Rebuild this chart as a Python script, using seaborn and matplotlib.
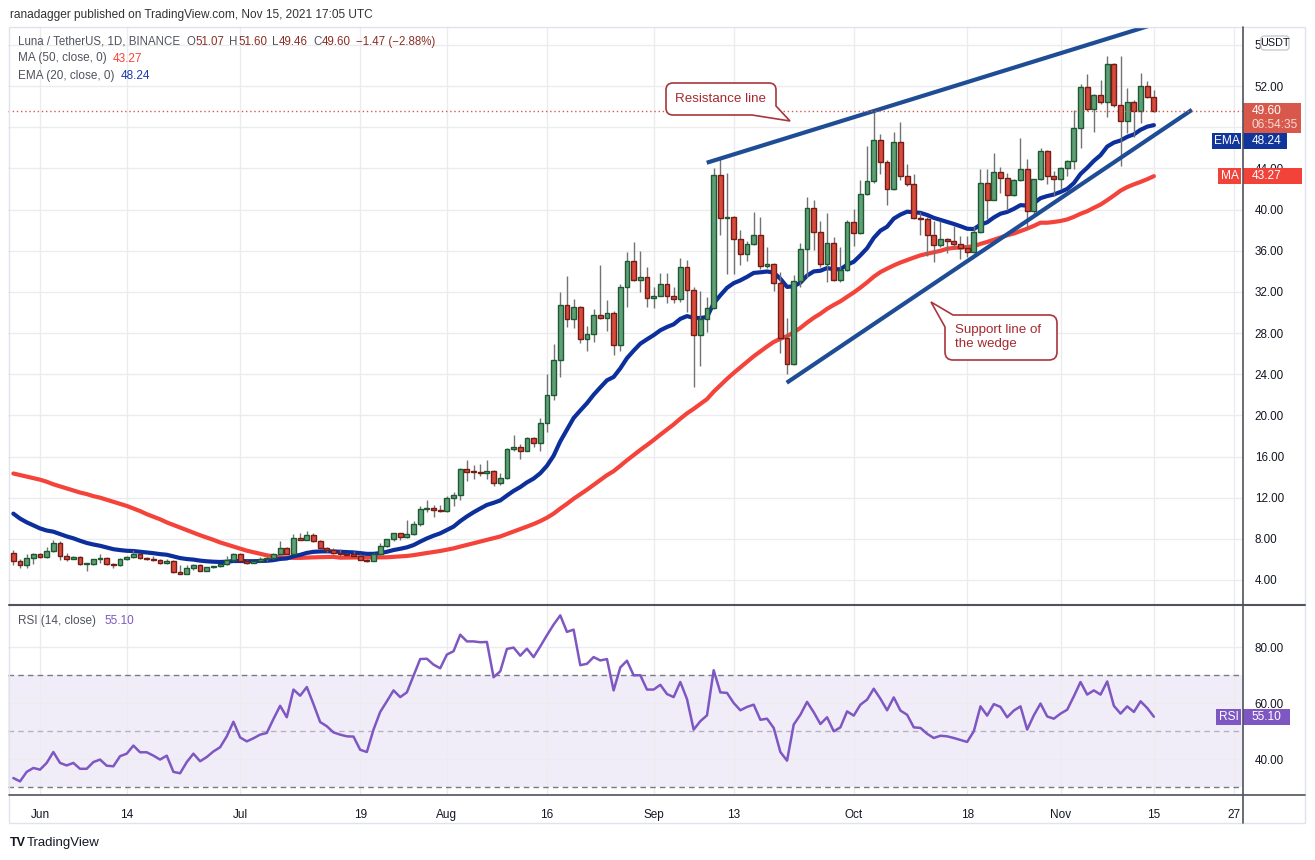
import numpy as np
import pandas as pd
import matplotlib
matplotlib.use("Agg")
import matplotlib.pyplot as plt
import matplotlib.ticker as mticker
import seaborn as sns
from matplotlib.path import Path
from matplotlib.patches import PathPatch, Rectangle, FancyBboxPatch

# ---------------- data ----------------
start_date = "2021-05-28"
first_open = 6.64

closes = [
    5.82, 5.42, 6.15, 6.50, 6.20, 6.84, 7.63, 6.30, 6.05, 6.28,
    5.55, 5.60, 6.00, 6.15, 5.55, 5.45, 6.08, 6.20, 6.57, 6.10,
    6.05, 5.90, 5.65, 5.88, 4.73, 4.63, 5.15, 5.45, 4.92, 5.22,
    5.38, 5.52, 5.98, 6.54, 5.85, 5.65, 5.82, 6.00, 6.10, 6.54,
    7.13, 6.57, 8.13, 7.90, 8.42, 7.76, 7.10, 6.90, 6.64, 6.50,
    6.40, 6.38, 5.95, 5.88, 6.54, 7.30, 7.96, 8.52, 8.19, 8.49,
    9.49, 10.92, 11.00, 10.82, 10.70, 12.00, 12.28, 14.75, 14.50, 14.45,
    14.42, 14.60, 13.45, 13.94, 16.70, 16.96, 16.55, 17.84, 17.35, 19.30,
    21.96, 25.37, 30.75, 29.35, 30.56, 27.40, 27.90, 29.80, 29.48, 29.97,
    26.83, 32.50, 34.97, 33.20, 33.43, 31.44, 31.63, 32.75, 31.63, 31.34,
    34.40, 32.20, 27.80, 29.38, 30.46, 43.40, 39.20, 39.30, 37.15, 35.70,
    36.70, 37.48, 34.47, 34.72, 32.88, 27.54, 25.00, 33.10, 36.18, 40.16,
    37.83, 34.72, 36.76, 33.14, 34.14, 38.80, 37.70, 41.52, 42.78, 46.76,
    44.63, 42.00, 46.57, 43.24, 42.50, 39.20, 39.10, 37.54, 36.54, 37.15,
    36.96, 36.67, 36.27, 35.85, 37.78, 42.60, 40.93, 43.67, 43.09, 41.40,
    42.90, 43.90, 39.87, 42.93, 45.72, 43.25, 42.93, 44.08, 44.76, 47.94,
    51.90, 49.80, 51.10, 50.50, 54.10, 50.20, 48.65, 50.45, 49.55, 52.00,
    50.96, 49.60]

highs = [
    6.90, 6.08, 6.54, 6.62, 6.62, 7.23, 7.86, 7.80, 6.60, 6.35,
    6.30, 5.62, 6.08, 6.50, 6.25, 5.62, 6.15, 6.30, 6.90, 6.62,
    6.25, 6.35, 6.05, 6.05, 5.92, 5.48, 5.48, 5.55, 5.55, 5.25,
    5.38, 5.60, 6.30, 6.64, 6.60, 5.92, 5.85, 6.20, 6.30, 6.64,
    7.80, 7.23, 8.45, 8.60, 8.78, 8.55, 7.86, 7.20, 7.10, 7.03,
    6.64, 6.80, 6.54, 6.08, 6.60, 7.55, 8.03, 8.60, 8.60, 9.82,
    9.70, 11.18, 11.80, 11.30, 11.30, 12.20, 12.55, 14.90, 15.66, 15.20,
    15.30, 15.70, 14.70, 14.35, 16.85, 18.06, 17.20, 17.90, 17.90, 19.70,
    24.00, 26.90, 32.00, 33.50, 31.30, 30.60, 28.70, 30.30, 34.60, 31.20,
    30.10, 32.80, 35.85, 36.80, 36.00, 34.40, 32.50, 33.80, 33.80, 32.50,
    35.30, 35.10, 32.50, 32.06, 31.50, 44.00, 45.10, 43.60, 39.40, 38.06,
    36.90, 39.80, 39.26, 36.40, 34.80, 33.90, 29.50, 33.60, 36.76, 41.23,
    40.90, 38.87, 39.70, 37.30, 36.40, 39.00, 40.10, 42.85, 46.20, 49.55,
    47.30, 44.80, 47.54, 48.50, 44.47, 43.50, 39.80, 39.30, 38.87, 38.87,
    37.20, 38.40, 37.46, 37.46, 38.40, 43.95, 43.90, 45.50, 44.10, 43.60,
    43.00, 46.95, 44.95, 43.00, 45.98, 45.80, 43.70, 44.15, 44.80, 49.68,
    52.20, 53.20, 51.20, 52.57, 54.89, 54.20, 54.89, 51.86, 50.60, 53.30,
    52.50, 51.60]

lows = [
    5.50, 5.16, 5.16, 5.60, 6.10, 6.10, 6.75, 5.90, 5.85, 6.02,
    5.50, 4.92, 5.45, 5.65, 5.50, 5.20, 5.40, 5.98, 6.18, 6.00,
    5.98, 5.80, 5.58, 5.60, 4.70, 4.55, 4.66, 5.00, 4.92, 4.95,
    5.15, 5.30, 5.42, 5.82, 5.82, 5.58, 5.62, 5.75, 5.82, 6.05,
    6.50, 6.52, 6.52, 7.87, 7.87, 7.70, 7.04, 6.72, 6.53, 6.27,
    6.36, 6.36, 5.90, 5.75, 5.80, 6.50, 7.20, 7.80, 7.90, 8.10,
    8.35, 9.20, 10.60, 10.10, 10.60, 10.60, 11.20, 11.75, 13.60, 13.80,
    14.10, 13.80, 13.10, 13.20, 13.80, 16.50, 15.80, 16.50, 16.90, 16.55,
    18.40, 21.50, 23.70, 28.60, 28.50, 27.00, 26.30, 27.10, 29.40, 28.20,
    25.90, 26.30, 30.50, 33.10, 32.00, 30.50, 30.40, 31.60, 30.90, 30.90,
    31.00, 30.00, 22.80, 24.80, 28.10, 30.30, 37.50, 33.70, 33.70, 34.66,
    35.00, 36.60, 34.20, 34.30, 32.07, 26.10, 24.00, 24.90, 32.50, 33.40,
    36.10, 34.40, 33.00, 33.04, 33.00, 34.00, 36.50, 37.60, 41.40, 42.60,
    43.50, 40.40, 41.90, 42.90, 42.30, 39.10, 37.57, 35.47, 34.90, 36.40,
    35.80, 36.20, 35.20, 35.37, 35.80, 37.70, 39.07, 40.90, 41.60, 40.00,
    41.30, 42.80, 38.10, 39.50, 42.90, 42.50, 41.30, 42.00, 43.30, 43.95,
    46.00, 49.60, 47.50, 50.30, 49.00, 50.00, 44.20, 47.40, 47.10, 48.40,
    50.80, 49.46]

# EMA(20) value on the first visible day
ema20_first = 10.45
# MA(50) on the first 49 visible days (its window reaches before the chart)
ma50_first_49 = [
    14.35, 14.20, 14.05, 13.90, 13.75, 13.55, 13.30, 13.10, 12.90, 12.70,
    12.50, 12.35, 12.15, 12.00, 11.80, 11.60, 11.40, 11.20, 10.95, 10.70,
    10.40, 10.15, 9.90, 9.60, 9.35, 9.10, 8.85, 8.60, 8.35, 8.13,
    7.90, 7.65, 7.45, 7.25, 7.05, 6.85, 6.70, 6.55, 6.40, 6.30,
    6.22, 6.17, 6.15, 6.15, 6.18, 6.20, 6.22, 6.23, 6.25]

rsi14 = [
    33.2, 32.0, 35.4, 36.8, 36.2, 38.6, 42.5, 38.6, 37.7, 38.6,
    36.5, 36.5, 38.9, 39.8, 37.6, 37.4, 41.0, 41.9, 44.8, 42.4,
    42.4, 41.2, 39.8, 41.2, 35.4, 34.9, 38.9, 41.9, 39.2, 40.7,
    42.7, 44.2, 48.1, 53.3, 47.7, 46.3, 47.4, 48.7, 49.3, 54.3,
    59.0, 54.9, 64.8, 62.6, 65.7, 59.6, 53.2, 51.7, 49.5, 48.7,
    48.1, 48.0, 43.3, 42.5, 50.5, 56.8, 60.6, 64.5, 62.1, 63.8,
    69.8, 75.7, 75.8, 73.7, 72.4, 77.3, 78.5, 84.4, 82.0, 82.0,
    81.7, 81.8, 69.2, 71.3, 79.3, 79.8, 76.9, 79.4, 76.4, 80.2,
    84.2, 88.0, 91.3, 85.4, 86.2, 73.5, 74.0, 76.4, 75.2, 75.7,
    64.5, 72.7, 75.1, 69.9, 69.9, 64.8, 64.8, 66.5, 63.2, 62.1,
    67.5, 61.4, 50.5, 53.5, 55.6, 71.7, 63.8, 63.6, 60.0, 57.4,
    58.6, 59.4, 54.0, 54.4, 51.1, 42.5, 39.4, 52.3, 55.8, 60.4,
    56.7, 52.5, 54.9, 49.9, 51.3, 57.0, 55.5, 59.4, 61.2, 65.1,
    61.5, 57.4, 62.0, 57.3, 55.8, 51.3, 51.1, 49.0, 47.5, 48.3,
    48.1, 47.5, 46.8, 46.1, 49.9, 58.8, 55.5, 59.6, 58.6, 54.9,
    57.3, 58.8, 50.5, 55.6, 59.8, 55.2, 54.4, 56.2, 57.6, 62.4,
    67.5, 63.0, 64.5, 63.0, 67.7, 59.0, 56.2, 58.8, 56.8, 60.6,
    58.2, 55.1]

tick_dates = ["2021-06-01", "2021-06-14", "2021-07-01", "2021-07-19", "2021-08-01",
              "2021-08-16", "2021-09-01", "2021-09-13", "2021-10-01", "2021-10-18",
              "2021-11-01", "2021-11-15", "2021-11-27"]
tick_labels = ["Jun", "14", "Jul", "19", "Aug", "16", "Sep", "13", "Oct", "18",
               "Nov", "15", "27"]
price_ticks = [4, 8, 12, 16, 20, 24, 28, 32, 36, 40, 44, 48, 52, 56]
hidden_price_labels = [48]   # fully covered by the price / EMA tags in the reference
rsi_ticks = [40, 60, 80]

# drawn trend lines: (days after start_date, price)
resistance_days = [103.96, 170.6]
resistance_prices = [44.55, 57.92]
support_days = [115.95, 176.7]
support_prices = [23.17, 49.69]

last_price = 49.60
ma_last, ema_last, rsi_last = 43.27, 48.24, 55.10
header_title = "ranadagger published on TradingView.com, Nov 15, 2021 17:05 UTC"
symbol_text = "Luna / TetherUS, 1D, BINANCE"
ohlc_text = [("O", "51.07"), ("H", "51.60"), ("L", "49.46"), ("C", "49.60")]
change_text = "\u22121.47 (\u22122.88%)"

# ---------------- derived series ----------------
dates = pd.date_range(start_date, periods=len(closes), freq="D")
opens = [first_open] + closes[:-1]
alpha = 2.0 / 21.0
ema20 = [ema20_first]
for c in closes[1:]:
    ema20.append(ema20[-1] + alpha * (c - ema20[-1]))
ma50 = list(ma50_first_49) + [float(np.mean(closes[i - 49:i + 1])) for i in range(49, len(closes))]
df = pd.DataFrame({"date": dates, "open": opens, "high": highs, "low": lows,
                   "close": closes, "ema20": ema20, "ma50": ma50, "rsi": rsi14})

t0 = pd.Timestamp(start_date)
def day(d):
    return t0 + pd.Timedelta(days=d)

# ---------------- style ----------------
sns.set_theme(style="white")
plt.rcParams["font.family"] = ["Liberation Sans", "DejaVu Sans"]

W, H = 1315, 860
fig = plt.figure(figsize=(W / 100, H / 100), dpi=100)
fig.patch.set_facecolor("white")

def rect(x0, y0, x1, y1):
    return [x0 / W, 1 - y1 / H, (x1 - x0) / W, (y1 - y0) / H]

ax = fig.add_axes(rect(8, 27, 1243, 604))
axr = fig.add_axes(rect(8, 606, 1243, 795), sharex=ax)

GRID = "#ececee"
TXT = "#131722"
GREEN_F, GREEN_E = "#5f9f76", "#1d5a33"
RED_F, RED_E = "#d64b3b", "#741c15"
EMA_C, MA_C, TREND_C = "#0d2f9c", "#f4433a", "#1f4d95"
RSI_C = "#7e57c2"

# ---------------- price pane ----------------
up = df["close"] >= df["open"]
ax.vlines(df["date"], df["low"], df["high"], color="#737373", linewidth=1, zorder=3)
body_h = np.maximum((df["close"] - df["open"]).abs(), 0.1)
body_b = np.minimum(df["close"], df["open"])
ax.bar(df["date"], body_h, bottom=body_b, width=0.72,
       color=np.where(up, GREEN_F, RED_F), edgecolor=np.where(up, GREEN_E, RED_E),
       linewidth=1, zorder=4)

sns.lineplot(x=df["date"], y=df["ma50"], ax=ax, color=MA_C, linewidth=3, zorder=2)
sns.lineplot(x=df["date"], y=df["ema20"], ax=ax, color=EMA_C, linewidth=3, zorder=2)

ax.plot([day(d) for d in resistance_days], resistance_prices, color=TREND_C, lw=3,
        solid_capstyle="butt", zorder=5)
ax.plot([day(d) for d in support_days], support_prices, color=TREND_C, lw=3,
        solid_capstyle="butt", zorder=5)
ax.axhline(last_price, color="#d65a4a", lw=1, ls=(0, (1, 2)), zorder=5)

p_of = lambda y: 4 + (580 - y) / 10.29
ax.set_ylim(p_of(604), p_of(27))

# ---------------- RSI pane ----------------
r_of = lambda y: 40 + (759 - y) / 2.8
axr.axhspan(30, 70, color=RSI_C, alpha=0.1, lw=0, zorder=0)
axr.axhline(70, color="#787b86", lw=1, ls=(0, (4, 3)), zorder=1)
axr.axhline(30, color="#787b86", lw=1, ls=(0, (4, 3)), zorder=1)
axr.axhline(50, color="#b4b2c2", lw=1, ls=(0, (4, 3)), zorder=1)
sns.lineplot(x=df["date"], y=df["rsi"], ax=axr, color=RSI_C, linewidth=1.8, zorder=3)
axr.set_ylim(r_of(795), r_of(606))

def price_fmt(v, p):
    return "" if round(v) in hidden_price_labels else f"{v:.2f}"

for a, yt, fmt in ((ax, price_ticks, price_fmt), (axr, rsi_ticks, lambda v, p: f"{v:.2f}")):
    a.set_facecolor("white")
    a.yaxis.tick_right()
    a.set_yticks(yt)
    a.yaxis.set_major_formatter(mticker.FuncFormatter(fmt))
    a.set_xticks(pd.to_datetime(tick_dates))
    a.grid(True, color=GRID, linewidth=1, zorder=0)
    a.set_axisbelow(True)
    a.tick_params(axis="y", length=0, pad=8.5, labelsize=8.4, labelcolor=TXT)
    a.tick_params(axis="x", length=0)
    a.set_xlabel("")
    a.set_ylabel("")
    for s in a.spines.values():
        s.set_visible(False)
ax.tick_params(axis="x", labelbottom=False)
axr.set_xticklabels(tick_labels)
axr.tick_params(axis="x", pad=10, labelsize=8.5, labelcolor=TXT)
ax.set_xlim(day(-0.8), day(184.36))

# ---------------- overlay (chrome, labels, callouts) ----------------
ov = fig.add_axes([0, 0, 1, 1], zorder=10)
ov.set_xlim(0, W)
ov.set_ylim(H, 0)
ov.axis("off")
ov.patch.set_alpha(0)
renderer = fig.canvas.get_renderer()

ov.add_patch(Rectangle((9, 27), 1296, 796, fill=False, edgecolor="#e0e3eb", lw=1))
ov.plot([1243, 1243], [27, 823], color="#50535e", lw=1.2)
ov.plot([9, 1305], [605, 605], color="#50535e", lw=1.5)
ov.plot([9, 1305], [795, 795], color="#50535e", lw=1.2)

def pix_y(a, v):
    return H - a.transData.transform((a.get_xlim()[0], v))[1]

F = ["Liberation Sans", "DejaVu Sans"]

def chain(tokens, x, y, size):
    """tokens: list of (text, colour, gap_after_px); placed left to right."""
    for s, c, gap in tokens:
        t = ov.text(x, y, s, fontsize=size, color=c, va="center", ha="left", family=F)
        x += t.get_window_extent(renderer).width + gap
    return x

ov.text(10, 15, header_title, fontsize=8.6, color="#333333", va="center", ha="left", family=F)

GRAY = "#50535e"
VRED = "#8c2d24"
tokens = [(symbol_text, GRAY, 6)]
for k, v in ohlc_text:
    tokens += [(k, GRAY, 0.5), (v, VRED, 5)]
tokens += [(change_text, VRED, 0)]
chain(tokens, 18, 42, 8.3)
chain([("MA (50, close, 0)", GRAY, 6), (f"{ma_last:.2f}", MA_C, 0)], 18, 58.5, 8.5)
chain([("EMA (20, close, 0)", GRAY, 6), (f"{ema_last:.2f}", "#1c3ca8", 0)], 18, 76, 8.5)
chain([("RSI (14, close)", GRAY, 8), (f"{rsi_last:.2f}", RSI_C, 0)], 18, 621, 8.5)

# USDT badge
ov.add_patch(FancyBboxPatch((1261, 36), 28, 14, boxstyle="round,pad=0,rounding_size=3",
                            facecolor="white", edgecolor="#c9cbd1", lw=1))
ov.text(1275, 43.5, "USDT", fontsize=7.8, color=TXT, ha="center", va="center", family=F)

def value_box(yc, x0, x1, color, text, h=16, tcolor="white"):
    ov.add_patch(Rectangle((x0, yc - h / 2), x1 - x0, h, facecolor=color, edgecolor="none"))
    ov.text(1252, yc + 0.5, text, fontsize=8.6, color=tcolor, va="center", ha="left", family=F)

def name_box(yc, x0, x1, color, text, h=16):
    ov.add_patch(Rectangle((x0, yc - h / 2), x1 - x0, h, facecolor=color, edgecolor="none"))
    ov.text((x0 + x1) / 2, yc + 0.5, text, fontsize=8.6, color="white", va="center",
            ha="center", family=F)

# current price + countdown
yp = pix_y(ax, last_price)
ov.add_patch(Rectangle((1243, yp - 8), 58, 30, facecolor="#d8594b", edgecolor="none"))
ov.text(1252, yp + 0.5, f"{last_price:.2f}", fontsize=8.6, color="white", va="center", family=F)
ov.text(1252, yp + 14.5, "06:54:35", fontsize=8.6, color="#f6d9d4", va="center", family=F)

ye = max(pix_y(ax, ema_last), yp + 22 + 8)
name_box(ye, 1212, 1241, "#11369b", "EMA")
value_box(ye, 1243, 1287, "#11369b", f"{ema_last:.2f}")
ym = pix_y(ax, ma_last)
name_box(ym, 1218, 1241, "#f2433b", "MA")
value_box(ym, 1243, 1302, "#f2433b", f"{ma_last:.2f}")
yr = pix_y(axr, rsi_last)
name_box(yr, 1216, 1241, RSI_C, "RSI")
value_box(yr, 1243, 1290, RSI_C, f"{rsi_last:.2f}")

# callouts
CALL_E, CALL_T = "#a8363c", "#a52a2f"
def make_path(pc):
    return Path([v for v, c in pc], [c for v, c in pc])

# Resistance line callout
L, T, R, B, r = 666, 83, 776, 115, 7
pc = [((L + r, T), Path.MOVETO), ((R - r, T), Path.LINETO), ((R, T), Path.CURVE3), ((R, T + r), Path.CURVE3),
      ((R, 106), Path.LINETO), ((790, 121), Path.LINETO), ((752, B), Path.LINETO),
      ((L + r, B), Path.LINETO), ((L, B), Path.CURVE3), ((L, B - r), Path.CURVE3),
      ((L, T + r), Path.LINETO), ((L, T), Path.CURVE3), ((L + r, T), Path.CURVE3),
      ((L + r, T), Path.CLOSEPOLY)]
ov.add_patch(PathPatch(make_path(pc), facecolor="white", edgecolor=CALL_E, lw=1.2))
ov.text((L + R) / 2, (T + B) / 2 + 0.5, "Resistance line", fontsize=9.6, color=CALL_T,
        ha="center", va="center", family=F)

# Support line callout
L, T, R, B, r = 945, 315, 1057, 360, 8
pc = [((953, T), Path.MOVETO), ((R - r, T), Path.LINETO), ((R, T), Path.CURVE3), ((R, T + r), Path.CURVE3),
      ((R, B - r), Path.LINETO), ((R, B), Path.CURVE3), ((R - r, B), Path.CURVE3),
      ((L + r, B), Path.LINETO), ((L, B), Path.CURVE3), ((L, B - r), Path.CURVE3),
      ((L, 327), Path.LINETO), ((931, 302), Path.LINETO), ((953, T), Path.LINETO),
      ((953, T), Path.CLOSEPOLY)]
ov.add_patch(PathPatch(make_path(pc), facecolor="white", edgecolor=CALL_E, lw=1.2))
ov.text(955, 329.5, "Support line of", fontsize=9.6, color=CALL_T, ha="left", va="center", family=F)
ov.text(955, 343.5, "the wedge", fontsize=9.6, color=CALL_T, ha="left", va="center", family=F)

# TradingView logo
ov.text(10, 843, "TV", fontsize=9, color=TXT, fontweight="heavy", va="center", family=F)
ov.text(27, 843, "TradingView", fontsize=9.5, color=TXT, va="center", family=F)

fig.savefig("out.png", dpi=100, facecolor="white")
